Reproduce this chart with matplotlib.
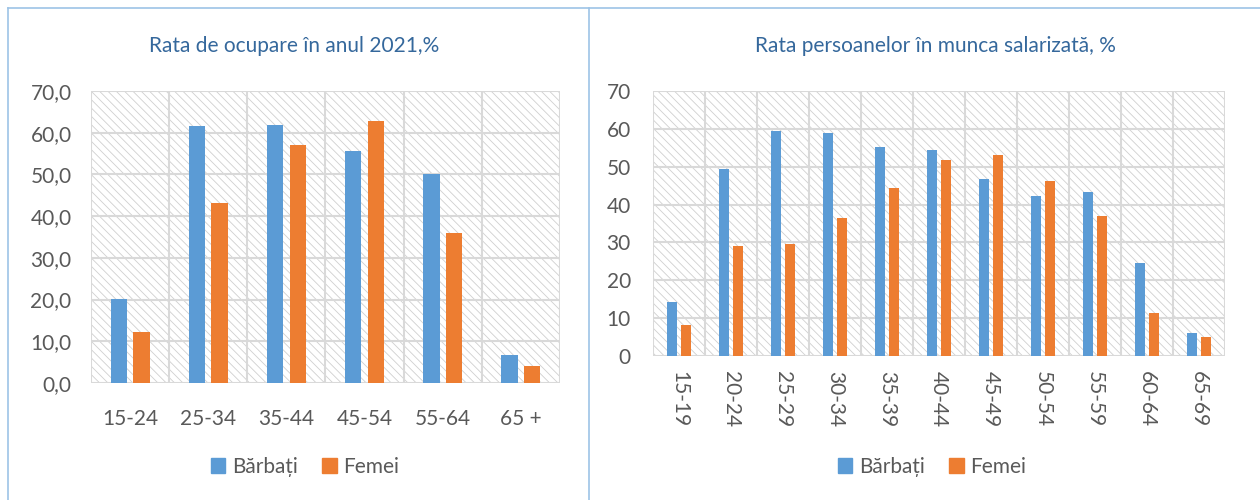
import matplotlib
matplotlib.use("Agg")
import matplotlib.pyplot as plt
from matplotlib.patches import Rectangle, Patch
from matplotlib.lines import Line2D
import numpy as np

plt.rcParams['font.family'] = ['Lato', 'DejaVu Sans']
plt.rcParams['hatch.linewidth'] = 0.6
plt.rcParams['hatch.color'] = '#D0D0D0'

# Left chart data
left_title = "Rata de ocupare în anul 2021,%"
left_cats = ["15-24", "25-34", "35-44", "45-54", "55-64", "65 +"]
left_men = [20.1, 61.5, 61.9, 55.7, 50.0, 6.7]
left_women = [12.2, 43.1, 57.1, 62.7, 35.9, 4.1]
left_yticks = [0, 10, 20, 30, 40, 50, 60, 70]
left_ylabels = ["0,0", "10,0", "20,0", "30,0", "40,0", "50,0", "60,0", "70,0"]

# Right chart data
right_title = "Rata persoanelor în munca salarizată, %"
right_cats = ["15-19", "20-24", "25-29", "30-34", "35-39", "40-44",
              "45-49", "50-54", "55-59", "60-64", "65-69"]
right_men = [14.2, 49.4, 59.5, 58.8, 55.1, 54.3, 46.7, 42.3, 43.2, 24.6, 6.2]
right_women = [8.3, 29.1, 29.6, 36.5, 44.4, 51.9, 53.0, 46.1, 37.0, 11.3, 5.1]
right_yticks = [0, 10, 20, 30, 40, 50, 60, 70]
right_ylabels = ["0", "10", "20", "30", "40", "50", "60", "70"]

series_names = ["Bărbați", "Femei"]
BLUE = '#5B9BD5'
ORANGE = '#ED7D31'
GRID = '#D9D9D9'
TXT = '#595959'
TITLE = '#35689C'
BORDER = '#9DC3E6'

fig = plt.figure(figsize=(12.6, 5.0), dpi=100)

# Panel borders
fig.add_artist(Line2D([8/1260, 1.0], [1-8/500, 1-8/500], color=BORDER, lw=1.2, transform=fig.transFigure))
fig.add_artist(Line2D([8/1260, 8/1260], [0, 1-8/500], color=BORDER, lw=1.2, transform=fig.transFigure))
fig.add_artist(Line2D([589/1260, 589/1260], [0, 1-8/500], color=BORDER, lw=1.2, transform=fig.transFigure))


def draw(ax, cats, men, women, yticks, ylabels, rot, bw, off, label_fs):
    n = len(cats)
    x = np.arange(n)
    ax.set_xlim(-0.5, n - 0.5)
    ax.set_ylim(0, 70)
    ax.add_patch(Rectangle((0, 0), 1, 1, transform=ax.transAxes, facecolor='white',
                           edgecolor='#D0D0D0', hatch='\\\\\\\\', lw=0, zorder=0))
    for yv in yticks:
        ax.axhline(yv, color=GRID, lw=1.5, zorder=1)
    for xv in np.arange(-0.5, n, 1.0):
        ax.axvline(xv, color=GRID, lw=1.5, zorder=1)
    ax.bar(x - off, men, bw, color=BLUE, zorder=3, label=series_names[0])
    ax.bar(x + off, women, bw, color=ORANGE, zorder=3, label=series_names[1])
    for s in ax.spines.values():
        s.set_visible(False)
    ax.set_yticks(yticks)
    ax.set_yticklabels(ylabels)
    ax.set_xticks(x)
    ax.set_xticklabels(cats, rotation=rot, va='top', ha='center')
    ax.tick_params(axis='both', length=0, colors=TXT, labelsize=label_fs)
    ax.set_facecolor('white')


axL = fig.add_axes([91/1260, 1-383/500, 469/1260, (383-91)/500])
draw(axL, left_cats, left_men, left_women, left_yticks, left_ylabels, 0, 0.21, 0.145, 15)
axL.tick_params(axis='y', pad=14)
axL.tick_params(axis='x', pad=19)
axR = fig.add_axes([653/1260, 1-356/500, 572/1260, (356-91)/500])
draw(axR, right_cats, right_men, right_women, right_yticks, right_ylabels, -90, 0.2, 0.135, 15)
axR.tick_params(axis='y', pad=16)
axR.tick_params(axis='x', pad=11)

fig.text(294/1260, 1-46/500, left_title, ha='center', va='center', color=TITLE, fontsize=15)
fig.text(935/1260, 1-46/500, right_title, ha='center', va='center', color=TITLE, fontsize=15)

handles = [Patch(color=BLUE), Patch(color=ORANGE)]
for cx in (305/1260, 932/1260):
    fig.legend(handles, series_names, loc='center', bbox_to_anchor=(cx, 1-467/500),
               ncol=2, frameon=False, fontsize=15, labelcolor=TXT,
               handlelength=0.7, handleheight=0.7, handletextpad=0.3, columnspacing=1.2)

fig.savefig("out.png", dpi=100, facecolor='white')
